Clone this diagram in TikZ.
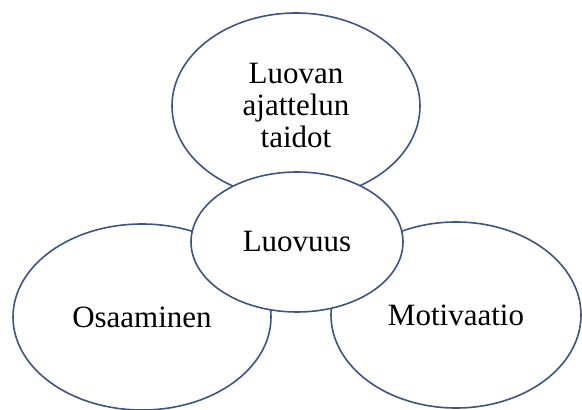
\documentclass[tikz,border=0pt]{standalone}
\usepackage{fontspec}
\setmainfont{Liberation Serif}
\usepackage{tikz}
\usetikzlibrary{shapes.geometric}
\definecolor{ringblue}{RGB}{62,84,130}
\tikzset{ring/.style={ellipse,draw=ringblue,line width=1.6pt,fill=white,inner sep=0pt,align=center}}

\begin{document}
\begin{tikzpicture}[font=\fontsize{31}{32}\selectfont,x=1pt,y=1pt]
        \useasboundingbox (0,0) rectangle (582,410);
        \node(Taidot)[ring,minimum width=248pt,minimum height=186pt] at (296,304) {Luovan\\ajattelun\\taidot};
        \node(Osaaminen)[ring,minimum width=258pt,minimum height=186pt] at (142,93) {Osaaminen};
        \node(Motivaatio)[ring,minimum width=250pt,minimum height=186pt] at (456,95) {Motivaatio};
        \node(Luovuus)[ring,minimum width=212pt,minimum height=140pt] at (297,168) {Luovuus};
      \end{tikzpicture}
\end{document}
